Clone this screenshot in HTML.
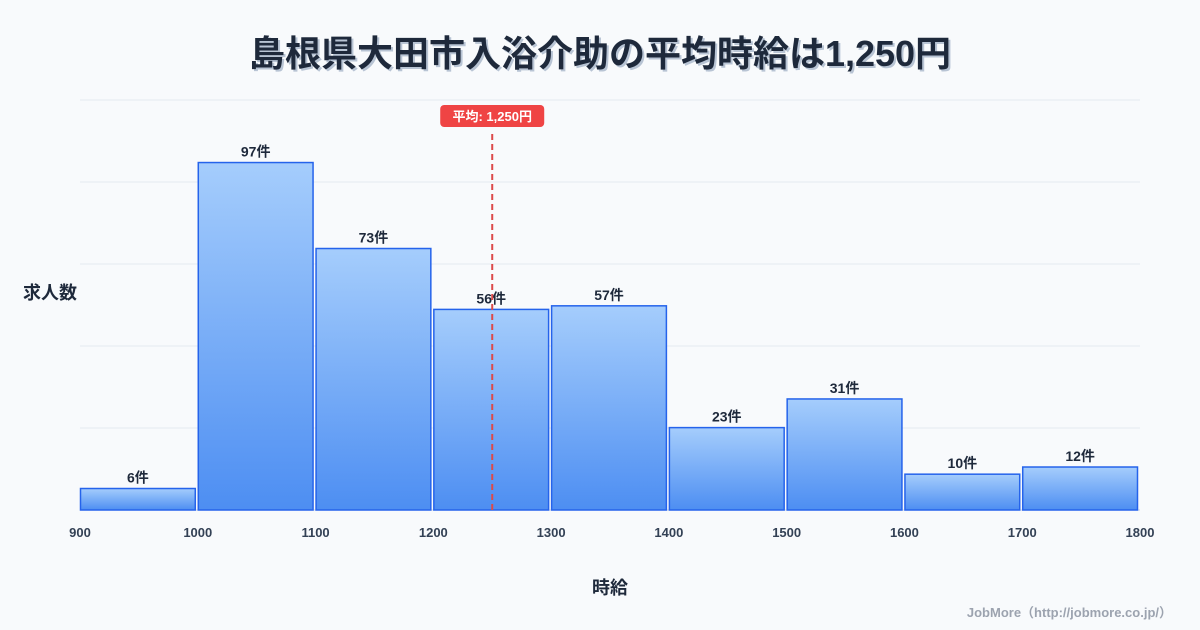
<!DOCTYPE html>
<html><head><meta charset="utf-8"><style>
body{margin:0;background:#f8fafc;}
svg{display:block;font-family:"Liberation Sans","Noto Sans CJK JP",sans-serif;}
</style></head><body>
<svg id="c" width="1200" height="630" viewBox="0 0 1200 630">
<defs><linearGradient id="g" x1="0" y1="0" x2="0" y2="1"><stop offset="0" stop-color="#a5cdfc"/><stop offset="1" stop-color="#4d8ef2"/></linearGradient></defs>
<rect width="1200" height="630" fill="#f8fafc"/>
<text x="602" y="68" text-anchor="middle" font-size="36" font-weight="bold" fill="#b8c4d4">島根県大田市入浴介助の平均時給は1,250円</text>
<text x="600" y="66" text-anchor="middle" font-size="36" font-weight="bold" fill="#1e293b">島根県大田市入浴介助の平均時給は1,250円</text>
<g id="grid"></g><g id="bars"></g><g id="xt"></g>
<text x="50" y="299" text-anchor="middle" font-size="18" font-weight="bold" fill="#1e293b">求人数</text>
<text x="610" y="594" text-anchor="middle" font-size="18" font-weight="bold" fill="#1e293b">時給</text>
<text x="1172" y="617" text-anchor="end" font-size="13" font-weight="bold" fill="#9ca3af">JobMore（http://jobmore.co.jp/）</text>
<g id="avg"></g>
</svg>
<script>
const binStarts=[900,1000,1100,1200,1300,1400,1500,1600,1700];
const counts=[6,97,73,56,57,23,31,10,12];
const xTicks=[900,1000,1100,1200,1300,1400,1500,1600,1700,1800];
const avgValue=1250;
const avgLabel="平均: 1,250円";
const NS="http://www.w3.org/2000/svg";
const L=80,R=1140,B=510,T=100,xMin=900,xMax=1800,yMax=Math.max(...counts)*1.18;
const x=v=>L+(v-xMin)/(xMax-xMin)*(R-L);
const y=v=>B-v/yMax*(B-T);
function mk(t,a,p){const e=document.createElementNS(NS,t);for(const k in a)e.setAttribute(k,a[k]);p.appendChild(e);return e;}
const grid=document.getElementById('grid');
for(let i=0;i<=5;i++){const gy=B-i*(B-T)/5;const l=mk('line',{x1:L,x2:R,y1:gy,y2:gy,stroke:i==0?'#cbd5e1':'#e5e9ef','stroke-width':1},grid);

}
const bars=document.getElementById('bars');
binStarts.forEach((s,i)=>{const x0=x(s)+0.5,x1=x(s+100)-2.5,yt=y(counts[i]);
const r=mk('rect',{x:x0,y:yt,width:x1-x0,height:B-yt,fill:'url(#g)',stroke:'#2563eb','stroke-width':1.5},bars);


const t=mk('text',{x:(x0+x1)/2,y:yt-6,'text-anchor':'middle','font-size':14,'font-weight':'bold',fill:'#1e293b'},bars);
t.textContent=counts[i]+'件';

});
const xt=document.getElementById('xt');
xTicks.forEach(v=>{const t=mk('text',{x:x(v),y:537,'text-anchor':'middle','font-size':13,'font-weight':'bold',fill:'#334155'},xt);
t.textContent=v;

});
const avg=document.getElementById('avg');const ax=x(avgValue);
const ln=mk('line',{x1:ax,x2:ax,y1:134,y2:B,stroke:'#dc4a4a','stroke-width':2,'stroke-dasharray':'6,4'},avg);


const bx=mk('rect',{x:ax-52,y:105,width:104,height:22,rx:4,fill:'#ef4444'},avg);


const at=mk('text',{x:ax,y:121,'text-anchor':'middle','font-size':13,'font-weight':'bold',fill:'#fff'},avg);
at.textContent=avgLabel;


</script>
</body></html>
